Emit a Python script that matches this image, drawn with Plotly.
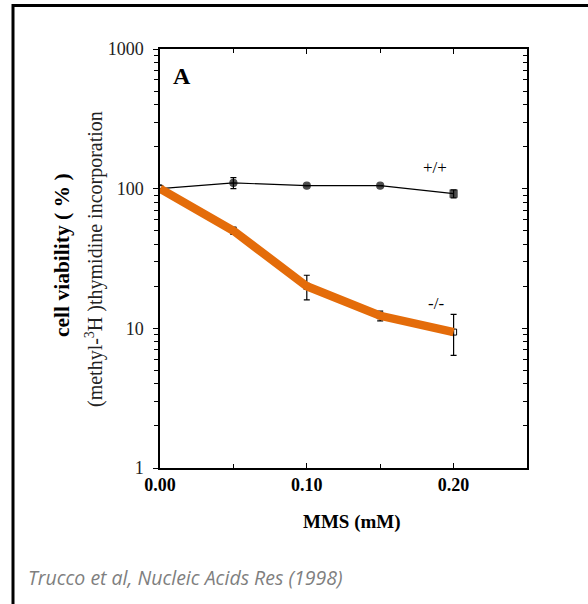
import plotly.graph_objects as go

# Data
mms = [0.0, 0.05, 0.10, 0.15, 0.20]
wt_viability = [100, 110, 105, 105, 92]
wt_err = [0, 10, 0, 0, 6]
ko_viability = [100, 50, 20, 12.3, 9.4]
ko_err_plus = [0, 3, 4, 1, 3.2]
ko_err_minus = [0, 3, 4, 1, 3.0]

x_tickvals = [0.0, 0.10, 0.20]
x_ticktext = ["<b>0.00</b>", "<b>0.10</b>", "<b>0.20</b>"]
x_minor = [0.05, 0.15]
y_tickvals = [1, 10, 100, 1000]
y_ticktext = ["1", "10", "100", "1000"]
y_minor = [m * d for d in (1, 10, 100) for m in range(2, 10)]

SERIF = "Liberation Serif, DejaVu Serif, serif"

fig = go.Figure()

# +/+ line
fig.add_trace(go.Scatter(
    x=mms, y=wt_viability, mode="lines+markers",
    line=dict(color="black", width=1.2),
    marker=dict(symbol=["circle-open", "circle", "circle", "circle", "square"],
                size=[8, 7, 7, 7, 7], color="black", line=dict(color="black", width=1.2)),
    error_y=dict(type="data", array=wt_err, color="black", thickness=1.2, width=3),
    showlegend=False,
))

# -/- points with error bars
fig.add_trace(go.Scatter(
    x=mms, y=ko_viability, mode="markers",
    marker=dict(symbol="square-open", size=6, color="black", line=dict(color="black", width=1)),
    error_y=dict(type="data", symmetric=False, array=ko_err_plus, arrayminus=ko_err_minus,
                 color="black", thickness=1.2, width=3),
    showlegend=False,
))

# orange highlight (drawn on the identical right-hand axis)
fig.add_trace(go.Scatter(
    x=mms, y=ko_viability, mode="lines", yaxis="y2",
    line=dict(color="#E46C0A", width=8.5),
    showlegend=False,
))

fig.update_layout(
    xaxis=dict(
        range=[0, 0.25], tickvals=x_tickvals, ticktext=x_ticktext,
        ticks="inside", ticklen=5, tickwidth=1.2, tickcolor="black",
        minor=dict(tickvals=x_minor, ticks="inside", ticklen=4, tickcolor="black", tickwidth=1.2),
        showline=True, linecolor="black", linewidth=1.5, mirror="ticks",
        showgrid=False, zeroline=False,
        tickfont=dict(family=SERIF, size=18, color="black"),
    ),
    yaxis=dict(
        type="log", range=[0, 3], tickvals=y_tickvals, ticktext=y_ticktext,
        ticks="outside", ticklen=5, tickwidth=1.2, tickcolor="black",
        minor=dict(tickvals=y_minor, ticks="outside", ticklen=4, tickcolor="black",
                   tickwidth=1.2, showgrid=False),
        showline=True, linecolor="black", linewidth=1.5,
        showgrid=False, zeroline=False, ticklabelstandoff=6,
        tickfont=dict(family=SERIF, size=18, color="#222"),
    ),
    yaxis2=dict(
        type="log", range=[0, 3], overlaying="y", side="right",
        tickvals=y_tickvals, showticklabels=False,
        ticks="inside", ticklen=5, tickwidth=1.2, tickcolor="black",
        minor=dict(tickvals=y_minor, ticks="inside", ticklen=4, tickcolor="black",
                   tickwidth=1.2, showgrid=False),
        showline=True, linecolor="black", linewidth=1.5,
        showgrid=False, zeroline=False,
    ),
)

def px_x(px):
    return (px - 160) / 367

def px_y(py):
    return (468 - py) / 419

anns = [
    dict(text="<b>A</b>", x=px_x(182), y=px_y(76),
         font=dict(family=SERIF, size=24, color="black")),
    dict(text="+/+", x=px_x(435), y=px_y(167),
         font=dict(family=SERIF, size=17, color="black")),
    dict(text="-/-", x=px_x(436), y=px_y(303),
         font=dict(family=SERIF, size=17, color="black")),
    dict(text="<b>MMS (mM)</b>", x=px_x(352), y=px_y(522),
         font=dict(family=SERIF, size=19, color="black")),
    dict(text="<b>cell viability ( % )</b>", x=px_x(62), y=px_y(255), textangle=-90,
         font=dict(family=SERIF, size=21.5, color="black")),
    dict(text="(methyl-<sup>3</sup>H )thymidine incorporation", x=px_x(94),
         y=px_y(259), textangle=-90,
         font=dict(family=SERIF, size=20, color="#222")),
    dict(text="<i>Trucco et al, Nucleic Acids Res (1998)</i>", x=px_x(26),
         y=px_y(577), xanchor="left",
         font=dict(family="Open Sans, sans-serif", size=19.5, color="#7F7F7F")),
]
for a in anns:
    a.setdefault("showarrow", False)
    a.setdefault("xanchor", "center")
    a.setdefault("yanchor", "middle")
    a.setdefault("xref", "paper")
    a.setdefault("yref", "paper")
    fig.add_annotation(**a)

# frame around the panel
frame = dict(color="black", width=3)
fig.add_shape(type="line", xref="paper", yref="paper",
              x0=px_x(13), x1=px_x(13), y0=px_y(620), y1=px_y(4), line=frame)
fig.add_shape(type="line", xref="paper", yref="paper",
              x0=px_x(12), x1=px_x(600), y0=px_y(5.5), y1=px_y(5.5), line=frame)

fig.update_layout(
    width=588, height=604,
    margin=dict(l=160, r=61, t=49, b=136),
    paper_bgcolor="white", plot_bgcolor="white",
    showlegend=False,
)

fig.write_html("out.html", config={"displayModeBar": False},
               post_script="document.body.style.margin='0';")
